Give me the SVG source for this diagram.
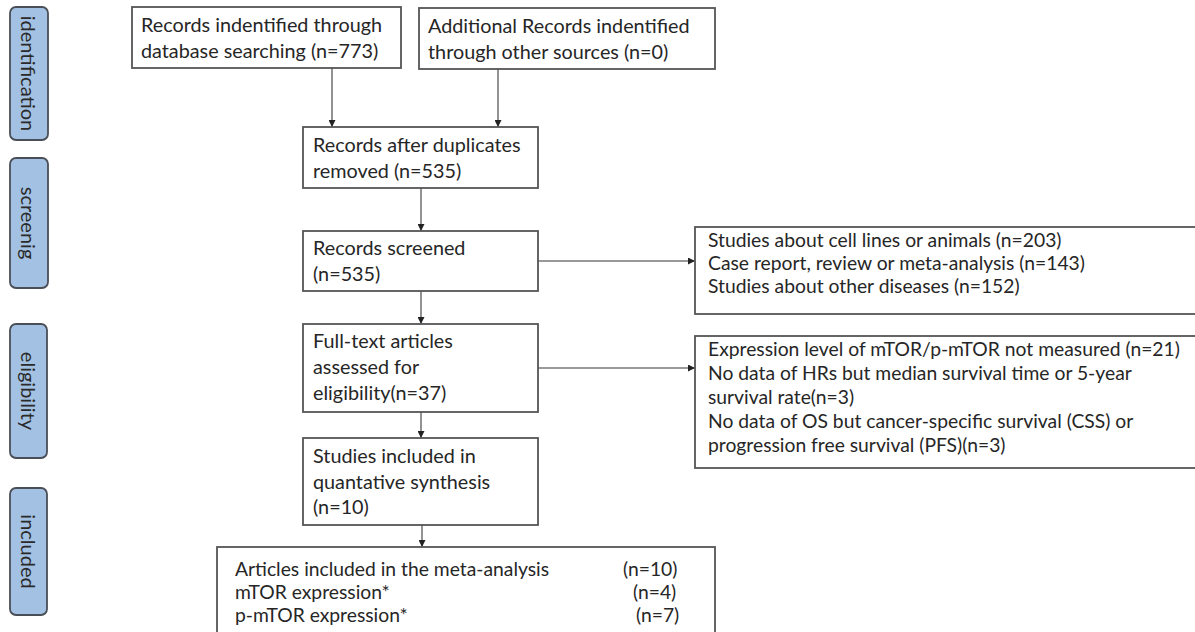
<svg xmlns="http://www.w3.org/2000/svg" width="1195" height="632" viewBox="0 0 1195 632">
<defs>
<marker id="ah" viewBox="0 0 10 10" refX="10" refY="5" markerWidth="7" markerHeight="7" markerUnits="userSpaceOnUse" orient="auto">
<path d="M0,0 L10,5 L0,10 z" fill="#222"/>
</marker>
<style>
.box{fill:#fff;stroke:#555;stroke-width:1.8}
.phase{fill:#a3c1e3;stroke:#4a4f57;stroke-width:1.8}
.t{font-family:Lato,"Liberation Sans",sans-serif;font-size:19.8px;fill:#262626}
.s{font-family:Lato,"Liberation Sans",sans-serif;font-size:19.3px;fill:#262626}
.p{font-family:Lato,"Liberation Sans",sans-serif;font-size:20px;fill:#2a2a2a}
.c{stroke:#777;stroke-width:1.6;fill:none}
</style>
</defs>
<rect width="1195" height="632" fill="#fff"/>

<g id="phase-identification"><rect class="phase" x="10" y="7" width="38" height="133" rx="6"/><text class="p" transform="translate(29 73.5) rotate(90)" text-anchor="middle" dominant-baseline="central">identification</text></g>
<g id="phase-screening"><rect class="phase" x="10" y="158" width="38" height="130" rx="6"/><text class="p" transform="translate(29 223) rotate(90)" text-anchor="middle" dominant-baseline="central">screenig</text></g>
<g id="phase-eligibility"><rect class="phase" x="10" y="324" width="37" height="134" rx="6"/><text class="p" transform="translate(28.5 391) rotate(90)" text-anchor="middle" dominant-baseline="central">eligibility</text></g>
<g id="phase-included"><rect class="phase" x="10" y="488" width="37" height="127" rx="6"/><text class="p" transform="translate(28.5 551.5) rotate(90)" text-anchor="middle" dominant-baseline="central">included</text></g>

<g id="connectors">
<line class="c" x1="332" y1="68" x2="332" y2="127" marker-end="url(#ah)"/>
<line class="c" x1="498" y1="69" x2="498" y2="127" marker-end="url(#ah)"/>
<line class="c" x1="421" y1="188" x2="421" y2="231" marker-end="url(#ah)"/>
<line class="c" x1="421" y1="291" x2="421" y2="324" marker-end="url(#ah)"/>
<line class="c" x1="421" y1="412" x2="421" y2="438" marker-end="url(#ah)"/>
<line class="c" x1="422" y1="525" x2="422" y2="547" marker-end="url(#ah)"/>
<line class="c" x1="538" y1="261" x2="695" y2="261" marker-end="url(#ah)"/>
<line class="c" x1="538" y1="368" x2="695" y2="368" marker-end="url(#ah)"/>
</g>

<g id="records-database"><rect class="box" x="132" y="7" width="269" height="61"/><text class="t" x="141" y="32">Records indentified through</text><text class="t" x="141" y="58">database searching (n=773)</text></g>
<g id="records-other"><rect class="box" x="419" y="8" width="296" height="61"/><text class="t" x="428" y="33">Additional Records indentified</text><text class="t" x="428" y="59">through other sources (n=0)</text></g>
<g id="records-dedup"><rect class="box" x="303" y="127" width="235" height="61"/><text class="t" x="313" y="152">Records after duplicates</text><text class="t" x="313" y="178">removed (n=535)</text></g>
<g id="records-screened"><rect class="box" x="303" y="231" width="235" height="60"/><text class="t" x="313" y="255">Records screened</text><text class="t" x="313" y="281">(n=535)</text></g>
<g id="fulltext"><rect class="box" x="303" y="324" width="235" height="88"/><text class="t" x="313" y="348">Full-text articles</text><text class="t" x="313" y="374">assessed for</text><text class="t" x="313" y="400">eligibility(n=37)</text></g>
<g id="studies-included"><rect class="box" x="303" y="438" width="235" height="87"/><text class="t" x="313" y="463">Studies included in</text><text class="t" x="313" y="489">quantative synthesis</text><text class="t" x="313" y="514">(n=10)</text></g>
<g id="meta-analysis"><rect class="box" x="217" y="547" width="498" height="100"/><text class="s" x="235" y="576">Articles included in the meta-analysis</text><text class="s" x="623" y="576">(n=10)</text><text class="s" x="235" y="599">mTOR expression*</text><text class="s" x="633" y="599">(n=4)</text><text class="s" x="235" y="622">p-mTOR expression*</text><text class="s" x="636" y="622">(n=7)</text></g>
<g id="excluded-screening"><rect class="box" x="695" y="227" width="510" height="87"/><text class="s" x="708" y="247">Studies about cell lines or animals (n=203)</text><text class="s" x="708" y="270">Case report, review or meta-analysis (n=143)</text><text class="s" x="708" y="293">Studies about other diseases (n=152)</text></g>
<g id="excluded-eligibility"><rect class="box" x="695" y="336" width="510" height="132"/><text class="s" x="708" y="356">Expression level of mTOR/p-mTOR not measured  (n=21)</text><text class="s" x="708" y="380">No data of HRs but median survival time or 5-year</text><text class="s" x="708" y="404">survival rate(n=3)</text><text class="s" x="708" y="428">No data of OS but cancer-specific survival (CSS) or</text><text class="s" x="708" y="452">progression free survival (PFS)(n=3)</text></g>
</svg>
